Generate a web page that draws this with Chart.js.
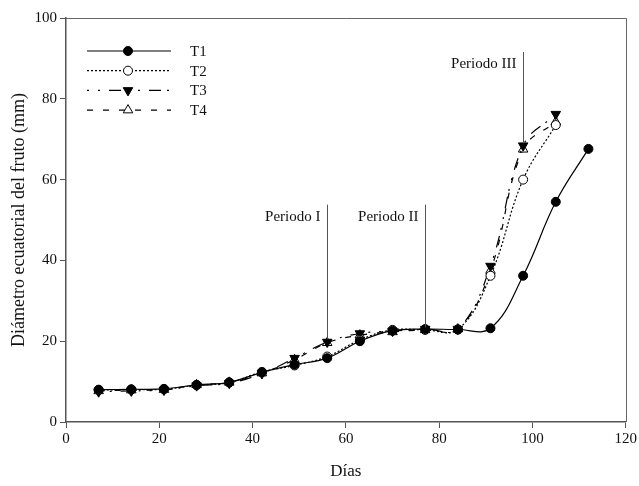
<!DOCTYPE html>
<html>
<head>
<meta charset="utf-8">
<script src="https://cdn.jsdelivr.net/npm/chart.js@4/dist/chart.umd.min.js"></script>
<style>
  html, body { margin: 0; padding: 0; background: #fff; }
  #wrap { width: 639px; height: 486px; }
</style>
</head>
<body>
<div id="wrap"><canvas id="growthCanvas" width="639" height="486"></canvas></div>
<script>
const days = [7, 14, 21, 28, 35, 42, 49, 56, 63, 70, 77, 84, 91, 98, 105, 112];
const t1 = [8.0, 8.1, 8.2, 9.2, 9.8, 12.3, 14.2, 15.8, 20.0, 22.6, 23.0, 22.9, 23.2, 36.2, 54.5, 67.6];
const t2 = [7.9, 8.0, 8.1, 9.1, 9.8, 12.4, 14.0, 16.2, 20.3, 22.8, 22.8, 22.9, 36.2, 60.0, 73.5];
const t3 = [7.5, 7.7, 7.9, 9.0, 9.6, 12.0, 15.8, 19.8, 21.9, 22.5, 23.0, 23.0, 38.6, 68.4, 76.2];
const t4 = [7.7, 7.9, 8.0, 9.2, 9.8, 12.1, 15.4, 19.6, 21.5, 22.3, 22.8, 23.0, 37.5, 67.5, 74.3];

const periodLabels = ["Periodo I", "Periodo II", "Periodo III"];
const periodDays = [56, 77, 98];
const periodTop = [53.8, 53.8, 91.6];
const periodBottom = [21, 23.4, 69];

const serif = "'Liberation Serif', 'DejaVu Serif', serif";

function pts(vals) {
    return vals.map((v, i) => ({ x: days[i], y: v }));
}

// vertical "Periodo" markers
const periodPlugin = {
    id: "periods",
    afterDatasetsDraw(chart) {
        const ctx = chart.ctx;
        const xs = chart.scales.x, ys = chart.scales.y;
        ctx.save();
        ctx.strokeStyle = "#555";
        ctx.lineWidth = 1;
        ctx.fillStyle = "#111";
        ctx.font = "15px " + serif;
        ctx.textAlign = "right";
        ctx.textBaseline = "middle";
        periodDays.forEach((d, i) => {
            const x = Math.round(xs.getPixelForValue(d)) + 0.5;
            const yTop = ys.getPixelForValue(periodTop[i]);
            ctx.beginPath();
            ctx.moveTo(x, yTop);
            ctx.lineTo(x, ys.getPixelForValue(periodBottom[i]));
            ctx.stroke();
            ctx.fillText(periodLabels[i], x - 7, yTop + 12);
        });
        ctx.restore();
    }
};

// frame on top / right plus the hand-made legend
const framePlugin = {
    id: "frame",
    afterDraw(chart) {
        const ctx = chart.ctx;
        const a = chart.chartArea;
        ctx.save();
        ctx.strokeStyle = "#666";
        ctx.lineWidth = 1;
        ctx.beginPath();
        ctx.moveTo(a.left, Math.round(a.top) + 0.5);
        ctx.lineTo(Math.round(a.right) + 0.5, Math.round(a.top) + 0.5);
        ctx.lineTo(Math.round(a.right) + 0.5, a.bottom);
        ctx.stroke();

        chart.data.datasets.forEach((ds, i) => {
            const y = 51 + i * 19.7;
            ctx.strokeStyle = "#000";
            ctx.lineWidth = 1.2;
            ctx.setLineDash(ds.borderDash || []);
            ctx.beginPath();
            ctx.moveTo(87, y);
            ctx.lineTo(171, y);
            ctx.stroke();
            ctx.setLineDash([]);
            ctx.fillStyle = ds.pointBackgroundColor;
            ctx.strokeStyle = "#000";
            ctx.lineWidth = 1;
            Chart.helpers.drawPoint(ctx, {
                pointStyle: ds.pointStyle,
                radius: ds.pointRadius,
                rotation: ds.pointRotation || 0,
                borderWidth: 1
            }, 128, y);
            ctx.fillStyle = "#111";
            ctx.font = "15px " + serif;
            ctx.textAlign = "left";
            ctx.textBaseline = "middle";
            ctx.fillText(ds.label, 190, y + 1);
        });
        ctx.restore();
    }
};

const common = {
    borderColor: "#000",
    borderWidth: 1.2,
    pointBorderColor: "#000",
    pointBorderWidth: 1,
    tension: 0.4,
    fill: false
};

new Chart(document.getElementById("growthCanvas"), {
    type: "line",
    data: {
        datasets: [
            Object.assign({}, common, { label: "T1", data: pts(t1), pointStyle: "circle", pointRadius: 4.5, pointBackgroundColor: "#000" }),
            Object.assign({}, common, { label: "T2", data: pts(t2), borderDash: [2, 2], pointStyle: "circle", pointRadius: 4.5, pointBackgroundColor: "#fff" }),
            Object.assign({}, common, { label: "T3", data: pts(t3), borderDash: [2, 9, 2, 9, 12, 6], pointStyle: "triangle", pointRotation: 180, pointRadius: 5.5, pointBackgroundColor: "#000" }),
            Object.assign({}, common, { label: "T4", data: pts(t4), borderDash: [6, 10], pointStyle: "triangle", pointRadius: 5.5, pointBackgroundColor: "#fff" })
        ]
    },
    options: {
        responsive: false,
        animation: false,
        layout: {
            padding: { top: 18, right: 9, left: 0, bottom: 0 }
        },
        plugins: {
            legend: { display: false },
            tooltip: { enabled: false }
        },
        scales: {
            x: {
                type: "linear",
                min: 0,
                max: 120,
                afterFit(scale) { scale.height = 64; },
                ticks: {
                    stepSize: 20,
                    color: "#111",
                    font: { family: serif, size: 15 },
                    padding: 2
                },
                grid: { drawOnChartArea: false, drawTicks: true, tickLength: 6, color: "#555" },
                border: { color: "#555", width: 1.5 },
                title: {
                    display: true,
                    text: "Días",
                    color: "#111",
                    font: { family: serif, size: 17 },
                    padding: { top: 12 }
                }
            },
            y: {
                min: 0,
                max: 100,
                afterFit(scale) { scale.width = 66; },
                ticks: {
                    stepSize: 20,
                    color: "#111",
                    font: { family: serif, size: 15 },
                    padding: 3
                },
                grid: { drawOnChartArea: false, drawTicks: true, tickLength: 6, color: "#555" },
                border: { color: "#555", width: 1.5 },
                title: {
                    display: true,
                    text: "Diámetro ecuatorial del fruto (mm)",
                    color: "#111",
                    font: { family: serif, size: 18 },
                    padding: { top: 8, bottom: 2 }
                }
            }
        }
    },
    plugins: [periodPlugin, framePlugin]
});
</script>
</body>
</html>
